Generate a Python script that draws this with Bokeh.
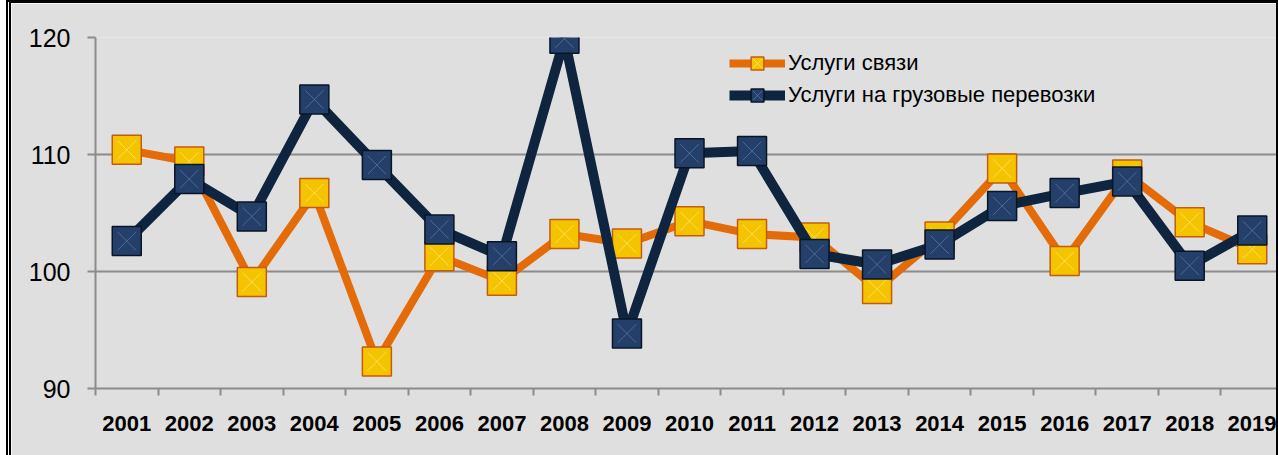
from bokeh.plotting import figure
from bokeh.models import FixedTicker, Range1d, Legend, LegendItem
from bokeh.embed import file_html
from bokeh.resources import INLINE

years = ["2001", "2002", "2003", "2004", "2005", "2006", "2007", "2008", "2009", "2010",
         "2011", "2012", "2013", "2014", "2015", "2016", "2017", "2018", "2019"]
svyaz = [110.4, 109.4, 99.1, 106.7, 92.3, 101.3, 99.2, 103.2, 102.4, 104.3,
         103.2, 102.9, 98.5, 103.0, 108.8, 100.9, 108.3, 104.2, 101.9]
gruz = [102.6, 107.9, 104.7, 114.7, 109.1, 103.6, 101.3, 119.9, 94.7, 110.1,
        110.3, 101.5, 100.6, 102.3, 105.6, 106.7, 107.7, 100.5, 103.5]
y_ticks = [90, 100, 110, 120]

xs = list(range(1, len(years) + 1))

p = figure(width=1265, height=452, x_range=Range1d(0.5, len(years) + 0.5), y_range=Range1d(90, 120),
           output_backend="svg", toolbar_location=None,
           min_border_left=84, min_border_right=0, min_border_top=34, min_border_bottom=70,
           background_fill_color="#DFDFDF", border_fill_color="#DFDFDF", outline_line_color=None)
p.styles = {"margin-left": "6px", "border-left": "5px double black",
            "border-top": "3px solid black", "border-right": "2px solid black",
            "box-sizing": "content-box"}

GRID = "#8C8C8C"
FONT = "Liberation Sans"

p.xgrid.grid_line_color = None
p.ygrid.grid_line_color = GRID
p.ygrid.grid_line_width = 2

p.yaxis.ticker = FixedTicker(ticks=y_ticks)
p.yaxis.axis_line_color = GRID
p.yaxis.axis_line_width = 2
p.yaxis.major_tick_line_color = GRID
p.yaxis.major_tick_line_width = 2
p.yaxis.major_tick_out = 8
p.yaxis.major_tick_in = 0
p.yaxis.minor_tick_line_color = None
p.yaxis.major_label_text_font = FONT
p.yaxis.major_label_text_font_size = "25px"
p.yaxis.major_label_text_color = "black"
p.yaxis.major_label_standoff = 17

p.xaxis.ticker = FixedTicker(ticks=xs, minor_ticks=[i + 0.5 for i in range(len(years) + 1)])
p.xaxis.major_label_overrides = {i: y for i, y in zip(xs, years)}
p.xaxis.axis_line_color = GRID
p.xaxis.axis_line_width = 2
p.xaxis.major_tick_line_color = None
p.xaxis.major_tick_out = 0
p.xaxis.major_tick_in = 0
p.xaxis.minor_tick_line_color = GRID
p.xaxis.minor_tick_line_width = 2
p.xaxis.minor_tick_out = 7
p.xaxis.minor_tick_in = 0
p.xaxis.major_label_text_font = FONT
p.xaxis.major_label_text_font_style = "bold"
p.xaxis.major_label_text_font_size = "22px"
p.xaxis.major_label_text_color = "black"
p.xaxis.major_label_standoff = 20

l1 = p.line(xs, svyaz, line_color="#E36C09", line_width=8)
s1 = p.scatter(xs, svyaz, marker="square", size=29, fill_color="#F5C400",
               line_color="#C55A11", line_width=1.5)
x1 = p.scatter(xs, svyaz, marker="x", size=26, line_color="#FFF2A0", line_alpha=0.55, line_width=1)

l2 = p.line(xs, gruz, line_color="#0F243E", line_width=10)
s2 = p.scatter(xs, gruz, marker="square", size=29, fill_color="#24406A",
               line_color="#081526", line_width=1.5)
x2 = p.scatter(xs, gruz, marker="x", size=26, line_color="#6A8AB8", line_alpha=0.55, line_width=1)

legend = Legend(items=[LegendItem(label="Услуги связи", renderers=[l1, s1, x1]),
                       LegendItem(label="Услуги на грузовые перевозки", renderers=[l2, s2, x2])],
                location=(634, 277), glyph_width=56, glyph_height=32, spacing=0,
                label_standoff=3, padding=0, margin=0,
                label_text_font=FONT, label_text_font_size="22px", label_text_color="black",
                background_fill_alpha=0, border_line_alpha=0)
p.add_layout(legend, "center")

open("out.html", "w").write(file_html(p, INLINE))
